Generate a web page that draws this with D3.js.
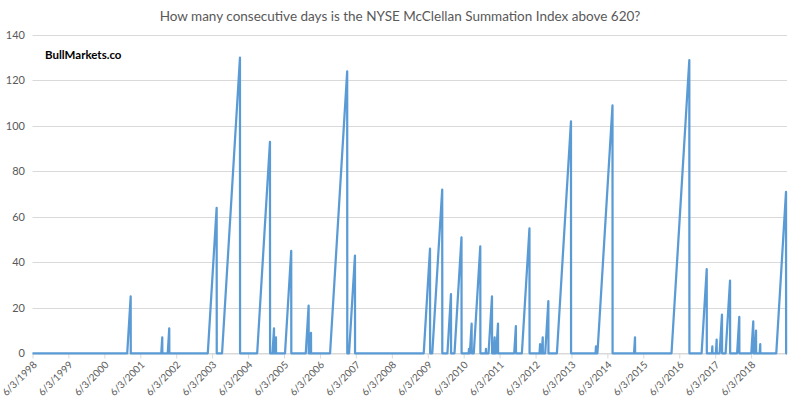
<!DOCTYPE html>
<html lang="en">
<head>
    <meta charset="UTF-8">
    <title>McClellan Summation Index streaks</title>
    <script src="https://d3js.org/d3.v7.min.js"></script>
    <style>
        body {
            margin: 0;
            background: #fff;
        }
        text {
            font-family: Lato, "Open Sans", sans-serif;
        }
    </style>
</head>
<body>
    <script>
        var width = 800;
        var height = 397;

        // peak date of each streak and its length (trading days)
        var peakDates = [
            "2001-02-25", "2002-01-12", "2002-03-24", "2003-07-19", "2004-03-12",
            "2005-01-11", "2005-02-21", "2005-03-13", "2005-08-15", "2006-02-08",
            "2006-03-04", "2007-03-07", "2007-05-25", "2009-06-26", "2009-10-28",
            "2010-01-25", "2010-05-12", "2010-07-27", "2010-08-23", "2010-11-19",
            "2011-01-16", "2011-03-18", "2011-04-14", "2011-05-18", "2011-11-16",
            "2012-04-02", "2012-07-19", "2012-08-15", "2012-10-11", "2013-05-29",
            "2014-02-07", "2014-07-25", "2015-03-11", "2016-09-13", "2017-03-09",
            "2017-05-05", "2017-06-18", "2017-08-11", "2017-11-01", "2018-02-03",
            "2018-06-25", "2018-07-23", "2018-09-04", "2019-05-24"
        ];
        var peakValues = [
            25, 7, 11, 64, 130,
            93, 11, 7, 45, 21,
            9, 124, 43, 46, 72,
            26, 51, 2, 13, 47,
            2, 25, 7, 13, 12,
            55, 4, 7, 23, 102,
            3, 109, 7, 129, 37,
            3, 6, 17, 32, 16,
            14, 10, 4, 71
        ];
        var yTicks = [0, 20, 40, 60, 80, 100, 120, 140];
        var xTickYears = d3.range(1998, 2019);

        var parse = d3.timeParse("%Y-%m-%d");
        var startDate = new Date(1998, 5, 3);
        var endDate = new Date(2019, 5, 3);

        var svg = d3.select("body")
            .append("svg")
            .attr("width", width)
            .attr("height", height);

        var x = d3.scaleTime()
            .domain([startDate, endDate])
            .range([32.5, 787]);

        var y = d3.scaleLinear()
            .domain([0, 140])
            .range([353.3, 35]);

        // title
        svg.append("text")
            .attr("x", 400)
            .attr("y", 21)
            .attr("text-anchor", "middle")
            .attr("fill", "#595959")
            .style("font-size", "13.5px")
            .text("How many consecutive days is the NYSE McClellan Summation Index above 620?");

        // gridlines + y labels
        var yg = svg.append("g");
        yg.selectAll("line")
            .data(yTicks)
            .enter()
            .append("line")
            .attr("x1", 32.5)
            .attr("x2", 787)
            .attr("y1", function(d) { return Math.round(y(d)) + 0.5; })
            .attr("y2", function(d) { return Math.round(y(d)) + 0.5; })
            .attr("stroke", "#d9d9d9")
            .attr("stroke-width", 1);

        yg.selectAll("text")
            .data(yTicks)
            .enter()
            .append("text")
            .attr("x", 25)
            .attr("y", function(d) { return y(d) + 4; })
            .attr("text-anchor", "end")
            .attr("fill", "#595959")
            .style("font-size", "11px")
            .text(function(d) { return d; });

        // x axis
        var xTicks = xTickYears.map(function(yr) { return new Date(yr, 5, 3); });
        var xAxis = d3.axisBottom(x)
            .tickValues(xTicks)
            .tickSize(5)
            .tickSizeOuter(0)
            .tickFormat(d3.timeFormat("%-m/%-d/%Y"));

        var xg = svg.append("g")
            .attr("transform", "translate(0," + (Math.round(y(0)) + 0.5) + ")")
            .call(xAxis);
        xg.select(".domain").attr("stroke", "#d9d9d9");
        xg.selectAll(".tick line").attr("stroke", "#d9d9d9");
        xg.selectAll(".tick text")
            .attr("fill", "#595959")
            .style("font-size", "10px")
            .style("font-family", "Lato, 'Open Sans', sans-serif")
            .attr("text-anchor", "end")
            .attr("x", 0)
            .attr("y", 0)
            .attr("dx", 0)
            .attr("dy", 0)
            .attr("transform", "translate(4.5,12) rotate(-45)");

        // build the sawtooth: each streak climbs one per trading day, then resets
        var pts = [[startDate, 0]];
        peakDates.forEach(function(s, i) {
            var peak = parse(s);
            var v = peakValues[i];
            var start = d3.timeDay.offset(peak, -Math.round(v * 7 / 5));
            pts.push([start, 0]);
            pts.push([peak, v]);
            pts.push([d3.timeDay.offset(peak, 1), 0]);
        });
        pts.push([endDate, 0]);
        pts.sort(function(a, b) { return a[0] - b[0]; });

        var line = d3.line()
            .x(function(d) { return x(d[0]); })
            .y(function(d) { return y(d[1]); });

        svg.append("path")
            .datum(pts)
            .attr("d", line)
            .attr("fill", "none")
            .attr("stroke", "#5b9bd5")
            .attr("stroke-width", 2.25)
            .attr("stroke-linejoin", "round");

        svg.append("text")
            .attr("x", 45)
            .attr("y", 59)
            .attr("fill", "#000")
            .style("font-size", "11.5px")
            .style("font-weight", "bold")
            .text("BullMarkets.co");
    </script>
</body>
</html>
